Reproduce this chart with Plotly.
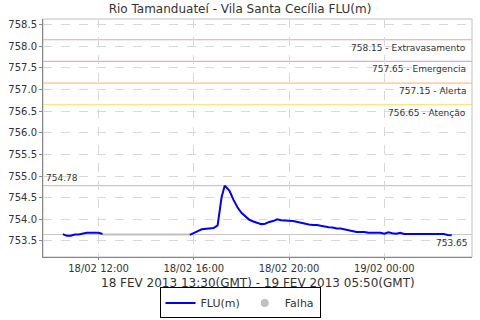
import plotly.graph_objects as go

title = "Rio Tamanduateí - Vila Santa Cecília FLU(m)"
xtitle = "18 FEV 2013 13:30(GMT) - 19 FEV 2013 05:50(GMT)"

flu_times = [
    "2013-02-18 10:30", "2013-02-18 10:40", "2013-02-18 10:50", "2013-02-18 11:00",
    "2013-02-18 11:10", "2013-02-18 11:20", "2013-02-18 11:30", "2013-02-18 11:40",
    "2013-02-18 11:50", "2013-02-18 12:00", "2013-02-18 12:10",
    "2013-02-18 14:00",
    "2013-02-18 15:50", "2013-02-18 16:00", "2013-02-18 16:10", "2013-02-18 16:20",
    "2013-02-18 16:30", "2013-02-18 16:40", "2013-02-18 16:50", "2013-02-18 17:00",
    "2013-02-18 17:10", "2013-02-18 17:18", "2013-02-18 17:30", "2013-02-18 17:40",
    "2013-02-18 17:50", "2013-02-18 18:00", "2013-02-18 18:10", "2013-02-18 18:20",
    "2013-02-18 18:30", "2013-02-18 18:40", "2013-02-18 18:50", "2013-02-18 19:00",
    "2013-02-18 19:10", "2013-02-18 19:20", "2013-02-18 19:30", "2013-02-18 19:40",
    "2013-02-18 19:50", "2013-02-18 20:00", "2013-02-18 20:10", "2013-02-18 20:20",
    "2013-02-18 20:30", "2013-02-18 20:40", "2013-02-18 20:50", "2013-02-18 21:00",
    "2013-02-18 21:10", "2013-02-18 21:20", "2013-02-18 21:30", "2013-02-18 21:40",
    "2013-02-18 21:50", "2013-02-18 22:00", "2013-02-18 22:10", "2013-02-18 22:20",
    "2013-02-18 22:30", "2013-02-18 22:40", "2013-02-18 22:50", "2013-02-18 23:00",
    "2013-02-18 23:10", "2013-02-18 23:20", "2013-02-18 23:30", "2013-02-18 23:40",
    "2013-02-18 23:50", "2013-02-19 00:00", "2013-02-19 00:10", "2013-02-19 00:20",
    "2013-02-19 00:30", "2013-02-19 00:40", "2013-02-19 00:50", "2013-02-19 01:00",
    "2013-02-19 01:10", "2013-02-19 01:20", "2013-02-19 01:30", "2013-02-19 01:40",
    "2013-02-19 01:50", "2013-02-19 02:00", "2013-02-19 02:10", "2013-02-19 02:20",
    "2013-02-19 02:30", "2013-02-19 02:40", "2013-02-19 02:50",
]
flu_values = [
    753.66, 753.62, 753.62, 753.65,
    753.65, 753.67, 753.69, 753.69,
    753.69, 753.69, 753.66,
    None,
    753.64, 753.69, 753.73, 753.77,
    753.78, 753.80, 753.80, 753.86,
    754.51, 754.78, 754.66, 754.45,
    754.28, 754.15, 754.07, 753.99,
    753.95, 753.92, 753.89, 753.90,
    753.94, 753.96, 754.00, 753.98,
    753.98, 753.97, 753.96, 753.94,
    753.92, 753.89, 753.88, 753.87,
    753.87, 753.85, 753.83, 753.82,
    753.81, 753.79, 753.79, 753.77,
    753.76, 753.73, 753.71, 753.71,
    753.71, 753.69, 753.69, 753.69,
    753.69, 753.67, 753.70, 753.68,
    753.67, 753.69, 753.66, 753.66,
    753.66, 753.66, 753.66, 753.66,
    753.66, 753.66, 753.66, 753.66,
    753.66, 753.64, 753.63,
]

falha_times = ["2013-02-18 12:10", "2013-02-18 15:50"]
falha_values = [753.65, 753.65]

threshold_values = [758.15, 757.65, 757.15, 756.65]
threshold_names = ["Extravasamento", "Emergencia", "Alerta", "Atenção"]
threshold_colors = ["#f0a0a0", "#e8a0e8", "#ffc080", "#ffe680"]

max_value = 754.78
min_value = 753.65

tick_vals = ["2013-02-18 12:00", "2013-02-18 16:00", "2013-02-18 20:00", "2013-02-19 00:00"]
tick_text = ["18/02 12:00", "18/02 16:00", "18/02 20:00", "19/02 00:00"]
y_ticks = [753.5, 754.0, 754.5, 755.0, 755.5, 756.0, 756.5, 757.0, 757.5, 758.0, 758.5]

fig = go.Figure()

fig.add_trace(go.Scatter(x=falha_times, y=falha_values, mode="lines",
                         line=dict(color="#c0c0c0", width=2), showlegend=False,
                         hoverinfo="skip"))
fig.add_trace(go.Scatter(x=flu_times, y=flu_values, mode="lines", name="FLU(m)",
                         line=dict(color="#0000ff", width=2), connectgaps=False))
fig.add_trace(go.Scatter(x=[None], y=[None], mode="markers", name="Falha",
                         marker=dict(color="#c0c0c0", size=8, symbol="circle")))

shapes = []
annotations = []
for v, n, c in zip(threshold_values, threshold_names, threshold_colors):
    shapes.append(dict(type="line", xref="paper", x0=0, x1=1, yref="y", y0=v, y1=v,
                       line=dict(color=c, width=1.2), layer="below"))
    annotations.append(dict(xref="paper", x=0.99, yref="y", y=v, text=f"{v:.2f} - {n}",
                            showarrow=False, xanchor="right", yanchor="top", yshift=-1,
                            font=dict(size=9, color="#333333")))
for v in (max_value, min_value):
    shapes.append(dict(type="line", xref="paper", x0=0, x1=1, yref="y", y0=v, y1=v,
                       line=dict(color="#c8c8c8", width=1.2), layer="below"))
annotations.append(dict(xref="paper", x=0.003, yref="y", y=max_value, text=f"{max_value:.2f}",
                        showarrow=False, xanchor="left", yanchor="bottom", yshift=1,
                        font=dict(size=9, color="#333333")))
annotations.append(dict(xref="paper", x=0.995, yref="y", y=min_value, text=f"{min_value:.2f}",
                        showarrow=False, xanchor="right", yanchor="top", yshift=-1,
                        font=dict(size=9, color="#333333")))
annotations.append(dict(xref="paper", x=0.5, yref="paper", y=0, yshift=-26, text=xtitle,
                        showarrow=False, xanchor="center", yanchor="middle",
                        font=dict(size=12, color="#333333")))

fig.update_layout(
    width=480, height=320,
    margin=dict(l=43, r=8, t=19, b=63, autoexpand=False),
    paper_bgcolor="white", plot_bgcolor="white",
    font=dict(family="DejaVu Sans", size=10, color="#333333"),
    title=dict(text=title, x=0.5, xanchor="center", y=0.985, yanchor="top",
               font=dict(size=12, color="#333333")),
    shapes=shapes, annotations=annotations,
    showlegend=True,
    legend=dict(orientation="h", x=0.5, xanchor="center", xref="container",
                y=0.005, yanchor="bottom", yref="container",
                bordercolor="black", borderwidth=1, font=dict(size=11, color="#333333"),
                itemwidth=30, tracegroupgap=0),
    xaxis=dict(type="date", range=["2013-02-18 09:40", "2013-02-19 03:41"],
               tickvals=tick_vals, ticktext=tick_text, tickfont=dict(size=10, color="#333333"),
               showgrid=True, gridcolor="#d8d8d8", griddash="dash", gridwidth=1,
               ticks="outside", ticklen=2, tickcolor="#888888", automargin=False,
               showline=True, linecolor="#888888", mirror=False, zeroline=False),
    yaxis=dict(range=[753.13, 758.63], tickvals=y_ticks, tickformat=".1f",
               tickfont=dict(size=10, color="#333333"), automargin=False,
               showgrid=True, gridcolor="#d8d8d8", griddash="dash", gridwidth=1,
               ticks="outside", ticklen=3, tickcolor="#888888",
               showline=True, linecolor="#888888", zeroline=False),
)
fig.add_shape(type="rect", xref="paper", yref="paper", x0=0, x1=1, y0=0, y1=1,
              line=dict(color="#c0c0c0", width=1), layer="below")

fig.write_html("out.html")
